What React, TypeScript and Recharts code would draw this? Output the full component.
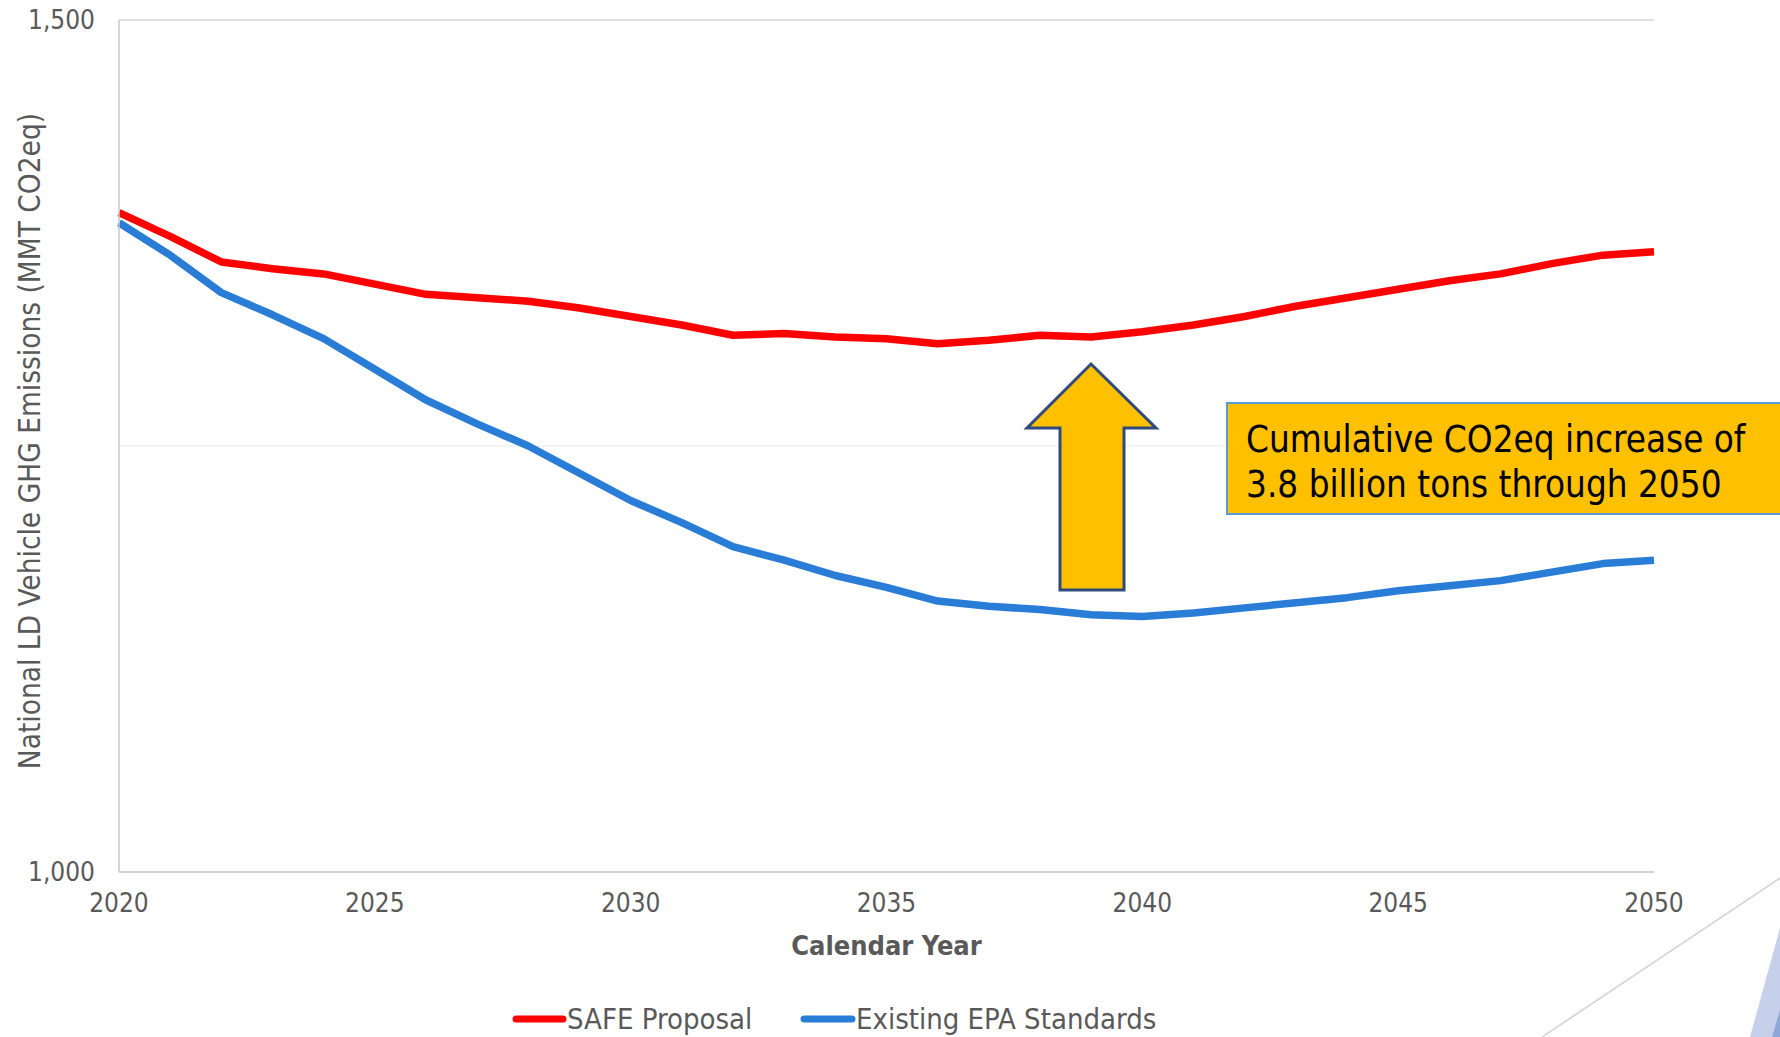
import React from 'react';
import { LineChart, Line, XAxis, YAxis, CartesianGrid, Legend, ReferenceLine, Customized } from 'recharts';

const years = [2020, 2021, 2022, 2023, 2024, 2025, 2026, 2027, 2028, 2029, 2030, 2031, 2032, 2033, 2034, 2035, 2036, 2037, 2038, 2039, 2040, 2041, 2042, 2043, 2044, 2045, 2046, 2047, 2048, 2049, 2050];
const safeProposal = [1387, 1373, 1358, 1354, 1351, 1345, 1339, 1337, 1335, 1331, 1326, 1321, 1315, 1316, 1314, 1313, 1310, 1312, 1315, 1314, 1317, 1321, 1326, 1332, 1337, 1342, 1347, 1351, 1357, 1362, 1364];
const existingEpa = [1381, 1362, 1340, 1327, 1313, 1295, 1277, 1263, 1250, 1234, 1218, 1205, 1191, 1183, 1174, 1167, 1159, 1156, 1154, 1151, 1150, 1152, 1155, 1158, 1161, 1165, 1168, 1171, 1176, 1181, 1183];
const seriesNames = ['SAFE Proposal', 'Existing EPA Standards'];
const seriesColors = ['#FF0000', '#2A7DD6'];
const xTicks = [2020, 2025, 2030, 2035, 2040, 2045, 2050];
const yTicks = [1000, 1250, 1500];
const yTickLabels: Record<number, string> = { 1000: '1,000', 1250: '', 1500: '1,500' };
const xTitle = 'Calendar Year';
const yTitle = 'National LD Vehicle GHG Emissions (MMT CO2eq)';
const annotationLines = ['Cumulative CO2eq increase of', '3.8 billion tons through 2050'];

const data = years.map((y, i) => ({ year: y, safe: safeProposal[i], epa: existingEpa[i] }));

const FONT = "'DejaVu Sans Condensed', 'DejaVu Sans', sans-serif";
const GRAY = '#595959';

const Annotations = () => (
  <g>
    {/* up arrow */}
    <polygon
      points="1091,364 1156,428 1124,428 1124,590 1060,590 1060,428 1027,428"
      fill="#FFC000"
      stroke="#2F4B7C"
      strokeWidth={3}
      strokeLinejoin="miter"
    />
    {/* callout box */}
    <rect x={1227} y={403} width={600} height={111} fill="#FFC000" stroke="#5B9BD5" strokeWidth={2} />
    {annotationLines.map((t, i) => (
      <text key={i} x={1246} y={452 + i * 45} fontFamily={FONT} fontStretch="condensed" fontSize={36.5} fill="#000">
        {t}
      </text>
    ))}
    {/* slide decoration */}
    <line x1={1542} y1={1037} x2={1780} y2={878} stroke="#D0D0D0" strokeWidth={1.5} />
    <polygon points="1750,1037 1780,928 1780,1037" fill="#C7D0EA" />
    <polygon points="1772,1037 1780,1010 1780,1037" fill="#8FA7D9" />
  </g>
);

const renderLegend = () => (
  <svg width={700} height={40}>
    <line x1={7} y1={20} x2={54} y2={20} stroke={seriesColors[0]} strokeWidth={7} strokeLinecap="round" />
    <text x={58} y={30} fontFamily={FONT} fontStretch="condensed" fontSize={29} fill={GRAY}>{seriesNames[0]}</text>
    <line x1={295} y1={20} x2={343} y2={20} stroke={seriesColors[1]} strokeWidth={7} strokeLinecap="round" />
    <text x={347} y={30} fontFamily={FONT} fontStretch="condensed" fontSize={29} fill={GRAY}>{seriesNames[1]}</text>
  </svg>
);

export default function App() {
  return (
    <div style={{ position: 'fixed', left: 0, top: 0, width: 1780, height: 1037, background: '#fff' }}>
      <LineChart width={1780} height={1037} data={data} margin={{ top: 20, right: 126, left: 0, bottom: 105 }}>
        <CartesianGrid vertical={false} stroke="#EFEFEF" strokeWidth={1.5} />
        <ReferenceLine y={1500} stroke="#D9D9D9" strokeWidth={1.5} />
        <XAxis
          dataKey="year"
          type="number"
          domain={[2020, 2050]}
          ticks={xTicks}
          height={60}
          tickLine={false}
          tickSize={0}
          tickMargin={22}
          axisLine={{ stroke: '#C8C8C8', strokeWidth: 1.5 }}
          tick={{ fontFamily: FONT, fontStretch: 'condensed', fontSize: 26, fill: GRAY } as any}
          label={{
            content: (props: any) => {
              const vb = props.viewBox || { x: 119, y: 872, width: 1535, height: 60 };
              return (
                <text x={vb.x + vb.width / 2} y={955} textAnchor="middle" fontFamily={FONT} fontStretch="condensed" fontWeight="bold" fontSize={27} fill={GRAY}>
                  {xTitle}
                </text>
              );
            },
          }}
        />
        <YAxis
          type="number"
          domain={[1000, 1500]}
          ticks={yTicks}
          width={119}
          tickLine={false}
          tickSize={0}
          tickMargin={24}
          axisLine={{ stroke: '#C8C8C8', strokeWidth: 1.5 }}
          tickFormatter={(v: number) => yTickLabels[v] ?? ''}
          tick={{ fontFamily: FONT, fontStretch: 'condensed', fontSize: 26, fill: GRAY } as any}
          label={{
            content: () => (
              <text x={0} y={0} transform="translate(40,441) rotate(-90)" textAnchor="middle" fontFamily={FONT} fontStretch="condensed" fontSize={29.5} fill={GRAY}>
                {yTitle}
              </text>
            ),
          }}
        />
        <Line dataKey="safe" name={seriesNames[0]} stroke={seriesColors[0]} strokeWidth={7.5} dot={false} isAnimationActive={false} strokeLinejoin="round" />
        <Line dataKey="epa" name={seriesNames[1]} stroke={seriesColors[1]} strokeWidth={7.5} dot={false} isAnimationActive={false} strokeLinejoin="round" />
        <Legend
          verticalAlign="middle"
          align="center"
          layout="horizontal"
          content={renderLegend}
          wrapperStyle={{ position: 'absolute', left: 509, top: 999, width: 700, height: 40 }}
        />
        <Customized component={<Annotations />} />
      </LineChart>
    </div>
  );
}
